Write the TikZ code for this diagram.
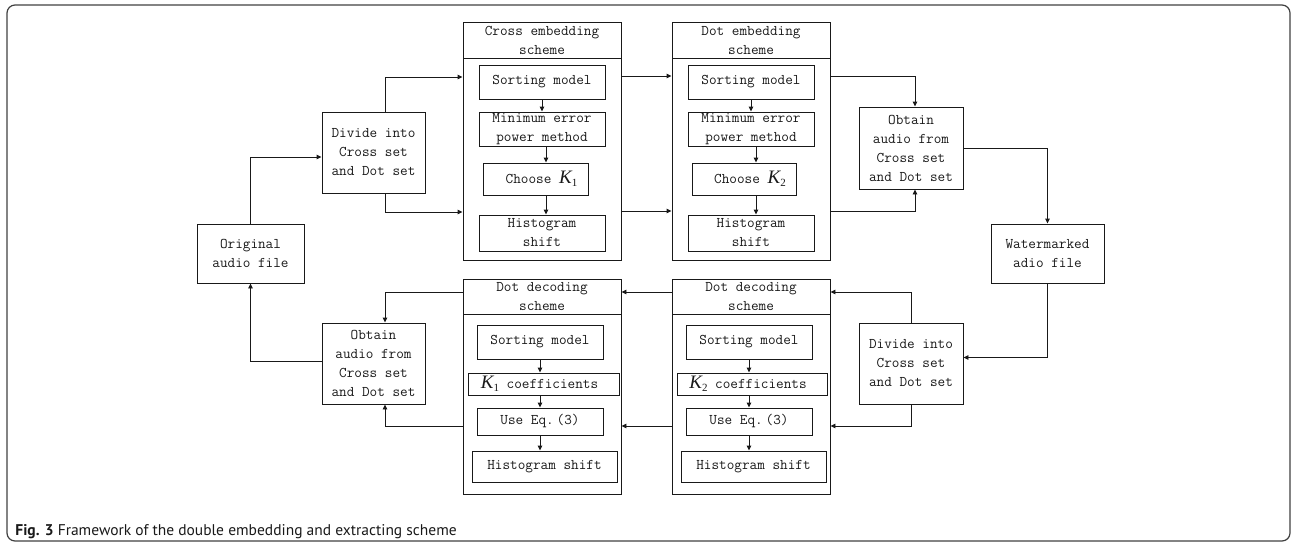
\documentclass[tikz,border=0pt]{standalone}
\usepackage{fontspec}
\setsansfont{PT Sans}
\newfontfamily\kfont{Liberation Serif}
\newcommand\kk[1]{{\kfont\fontsize{19}{19}\selectfont\itshape K}\raisebox{-3pt}{\kfont\fontsize{11}{11}\selectfont #1}}
\usetikzlibrary{arrows.meta}
\tikzset{
  blk/.style={draw,inner sep=0pt,align=center,font=\ttfamily\fontsize{14.8}{19}\selectfont},
  arr/.style={-{Triangle[length=5pt,width=4.5pt]}},
}

\begin{document}
\begin{tikzpicture}[x=1pt,y=-1pt,line width=0.9pt,black!90]
                \useasboundingbox (0,0) rectangle (1293,543);
                \draw[black!75,line width=1.2pt,rounded corners=8pt] (7,5) rectangle (1290,541);
                \node[blk,minimum width=107,minimum height=59] (orig) at (250.5,253.5) {Original\\audio file};
                \node[blk,minimum width=103,minimum height=81] (divA) at (373.5,152.5) {Divide into\\Cross set\\and Dot set};
                \node[blk,minimum width=158,minimum height=35.5] (ceh) at (542,40.5) {Cross embedding\\scheme};
                \node[blk,minimum width=158,minimum height=202] (ceb) at (542,159) {};
                \node[blk,minimum width=126,minimum height=34] (ce1) at (542,82) {Sorting model};
                \node[blk,minimum width=126,minimum height=34] (ce2) at (542,129) {Minimum error\\power method};
                \node[blk,minimum width=105,minimum height=32] (ce3) at (535.5,179) {\hspace*{12pt}Choose \kk{1}};
                \node[blk,minimum width=126,minimum height=36] (ce4) at (542,233) {Histogram\\shift};
                \node[blk,minimum width=158,minimum height=35.5] (deh) at (751,40.5) {Dot embedding\\scheme};
                \node[blk,minimum width=158,minimum height=202] (deb) at (751,159) {};
                \node[blk,minimum width=126,minimum height=34] (de1) at (751,82) {Sorting model};
                \node[blk,minimum width=126,minimum height=34] (de2) at (751,129) {Minimum error\\power method};
                \node[blk,minimum width=104,minimum height=32] (de3) at (744,179) {\hspace*{12pt}Choose \kk{2}};
                \node[blk,minimum width=126,minimum height=36] (de4) at (751,233) {Histogram\\shift};
                \node[blk,minimum width=104,minimum height=82] (obA) at (911,148) {Obtain\\audio from\\Cross set\\and Dot set};
                \node[blk,minimum width=113,minimum height=59] (wm) at (1047.5,253.5) {Watermarked\\adio file};
                \node[blk,minimum width=104,minimum height=81] (divB) at (911,363.5) {Divide into\\Cross set\\and Dot set};
                \node[blk,minimum width=158,minimum height=35] (ddrh) at (751,296.5) {Dot decoding\\scheme};
                \node[blk,minimum width=158,minimum height=180] (ddrb) at (751,404) {};
                \node[blk,minimum width=126,minimum height=34] (ddr1) at (749,342) {Sorting model};
                \node[blk,minimum width=150,minimum height=22] (ddr2) at (752,384) {\kk{2} coefficients\hspace*{8pt}};
                \node[blk,minimum width=126,minimum height=27] (ddr3) at (749,421.5) {Use Eq.\hspace{3pt}(3)};
                \node[blk,minimum width=145,minimum height=31] (ddr4) at (753.5,466.5) {Histogram shift};
                \node[blk,minimum width=158,minimum height=35] (ddlh) at (542,296.5) {Dot decoding\\scheme};
                \node[blk,minimum width=158,minimum height=180] (ddlb) at (542,404) {};
                \node[blk,minimum width=126,minimum height=34] (ddl1) at (540,342) {Sorting model};
                \node[blk,minimum width=151,minimum height=22] (ddl2) at (543.5,384) {\kk{1} coefficients\hspace*{8pt}};
                \node[blk,minimum width=126,minimum height=27] (ddl3) at (540,421.5) {Use Eq.\hspace{3pt}(3)};
                \node[blk,minimum width=145,minimum height=31] (ddl4) at (544.5,466.5) {Histogram shift};
                \node[blk,minimum width=103,minimum height=81] (obB) at (373.5,363.5) {Obtain\\audio from\\Cross set\\and Dot set};
                \draw[arr] (ce1) -- (ce2);
                \draw[arr] ([xshift=4pt]ce2.south) -- ([xshift=4pt]ce2.south |- ce3.north);
                \draw[arr] ([xshift=4pt]ce4.north |- ce3.south) -- ([xshift=4pt]ce4.north);
                \draw[arr] (de1) -- (de2);
                \draw[arr] ([xshift=5pt]de2.south) -- ([xshift=5pt]de2.south |- de3.north);
                \draw[arr] ([xshift=5pt]de4.north |- de3.south) -- ([xshift=5pt]de4.north);
                \foreach \c in {ddl,ddr}
                  \foreach \a/\b in {1/2,2/3,3/4}
                    \draw[arr] (\c\a.south -| \c1) -- (\c\b.north -| \c1);
                \draw[arr] (orig.north) |- ([yshift=-4.5pt]divA.west);
                \draw[arr] ([xshift=11.5pt]divA.north) |- (ceb.west |- 0,77);
                \draw[arr] ([xshift=11.5pt]divA.south) |- (ceb.west |- 0,212);
                \draw[arr] (ceb.east |- 0,76) -- (deb.west |- 0,76);
                \draw[arr] (ceb.east |- 0,211) -- (deb.west |- 0,211);
                \draw[arr] (deb.east |- 0,76) -| ([xshift=4pt]obA.north);
                \draw[arr] (deb.east |- 0,211) -| ([xshift=4pt]obA.south);
                \draw[arr] (obA.east) -| (wm.north);
                \draw[arr] (wm.south) |- ([yshift=6pt]divB.east);
                \draw[arr] (divB.north) |- (ddrh.east |- 0,292);
                \draw[arr] (divB.south) |- (ddrb.east |- 0,426);
                \draw[arr] (ddrh.west |- 0,292) -- (ddlh.east |- 0,292);
                \draw[arr] (ddrb.west |- 0,426) -- (ddlb.east |- 0,426);
                \draw[arr] (ddlh.west |- 0,292) -| ([xshift=11.5pt]obB.north);
                \draw[arr] (ddlb.west |- 0,426) -| ([xshift=11.5pt]obB.south);
                \draw[arr] ([yshift=2.5pt]obB.west) -| (orig.south);
                \node[anchor=base west,inner sep=0pt,font=\sffamily\fontsize{15.5}{15.5}\selectfont] (cap) at (15,535) {\textbf{Fig. 3} Framework of the double embedding and extracting scheme};
            \end{tikzpicture}
\end{document}
